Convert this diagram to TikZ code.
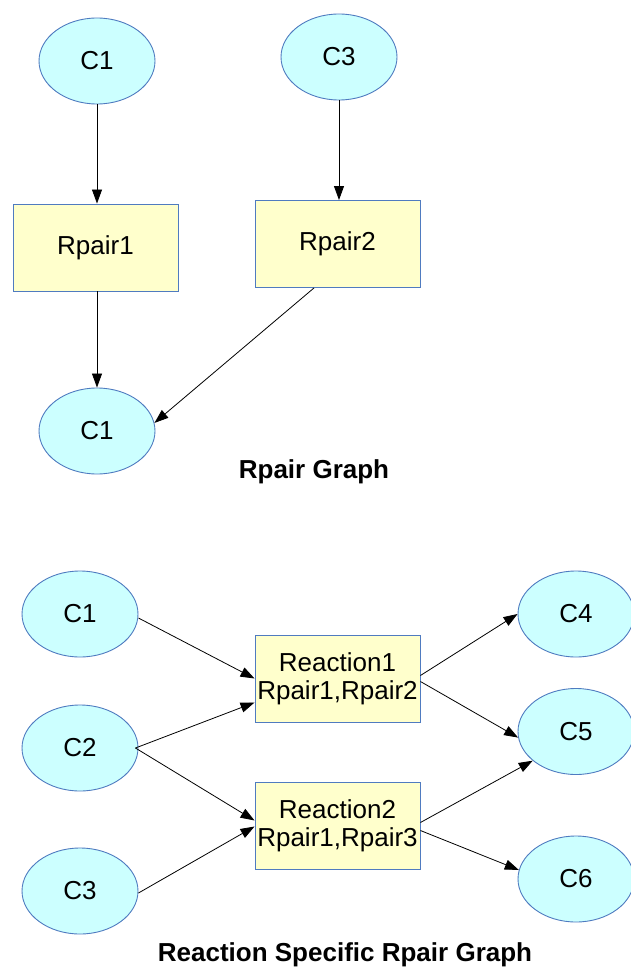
\documentclass[tikz,border=0pt]{standalone}
\usepackage{fontspec}
\setmainfont{Liberation Sans}
\usetikzlibrary{arrows.meta}
\usetikzlibrary{shapes.geometric}

\definecolor{cpdfill}{HTML}{CCFFFF}
\definecolor{boxfill}{HTML}{FFFFCC}
\definecolor{edgeblue}{HTML}{4F7BC0}

\tikzset{
  cpd/.style={ellipse,draw=edgeblue,fill=cpdfill,line width=0.9pt,
    minimum width=116pt,minimum height=86pt,inner sep=0pt},
  pairbox/.style={rectangle,draw=edgeblue,fill=boxfill,line width=0.9pt,
    minimum width=165pt,minimum height=87pt,inner sep=0pt,align=center},
  flow/.style={-{Triangle[length=14pt,width=10pt]},line width=0.8pt},
  caption/.style={font=\fontsize{26}{28}\selectfont\bfseries}
}

\begin{document}
\begin{tikzpicture}[x=1pt,y=-1pt,font=\fontsize{26}{28}\selectfont]
  \useasboundingbox (0,0) rectangle (630,968);

  % Rpair graph
  \node[cpd] at (97,61) (c1a){C1};
  \node[cpd] at (339,57) (c3a){C3};
  \node[pairbox] at (95.5,247.5) (rp1){Rpair1};
  \node[pairbox] at (337.5,244) (rp2){Rpair2};
  \node[cpd] at (97,431) (c1b){C1};
  \node[caption] at (314,472) (title1){Rpair Graph};

  \draw[flow] (c1a.south) -- (c1a.south |- rp1.north);
  \draw[flow] (c3a.south) -- (c3a.south |- rp2.north);
  \draw[flow] (c1b.north |- rp1.south) -- (c1b.north);
  \draw[flow] ([xshift=-23.5pt]rp2.south) -- (c1b.8);

  % reaction specific graph
  \node[cpd] at (80,614) (c1){C1};
  \node[cpd] at (80,748) (c2){C2};
  \node[cpd] at (80,891) (c3){C3};
  \node[pairbox] at (337.5,678.5) (r1){Reaction1\\Rpair1,Rpair2};
  \node[pairbox] at (337.5,825.5) (r2){Reaction2\\Rpair1,Rpair3};
  \node[cpd] at (576,614) (c4){C4};
  \node[cpd] at (576,731.5) (c5){C5};
  \node[cpd] at (576,879) (c6){C6};
  \node[caption] at (345,955) (title2){Reaction Specific Rpair Graph};

  \draw[flow] ([yshift=-4pt]c1.east) -- (r1.west);
  \draw[flow] ([xshift=-3pt]c2.east) -- ([yshift=-24pt]r1.west);
  \draw[flow] ([xshift=-3pt]c2.east) -- ([yshift=5pt]r2.west);
  \draw[flow] ([yshift=-2pt]c3.east) -- ([yshift=-1pt]r2.west);
  \draw[flow] ([yshift=3pt]r1.east) -- (c4.west);
  \draw[flow] ([yshift=-3pt]r1.east) -- (c5.186);
  \draw[flow] ([yshift=3pt]r2.east) -- (c5.214);
  \draw[flow] ([yshift=-5pt]r2.east) -- (c6.171);
\end{tikzpicture}
\end{document}
